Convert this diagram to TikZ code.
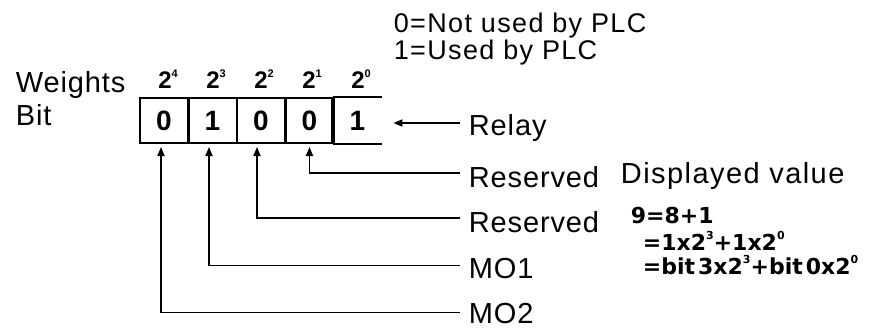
\documentclass[tikz,border=0pt]{standalone}
\usepackage{fontspec}
\setmainfont{Liberation Sans}
\newfontfamily\eqfont{DejaVu Sans}
\newfontfamily\widefont[LetterSpace=5]{Liberation Sans}
\newfontfamily\labfont[LetterSpace=3]{Liberation Sans}
\usetikzlibrary{arrows.meta,calc}
\newcommand{\sups}[1]{\raisebox{0.45em}{\fontsize{11}{11}\selectfont #1}}
\newcommand{\esup}[1]{\raisebox{0.5em}{\fontsize{11}{11}\selectfont #1}}
\begin{document}
\begin{tikzpicture}[x=1pt,y=-1pt,line width=1.8pt,
  lbl/.style={font=\labfont\fontsize{29}{30}\selectfont,inner sep=0pt,anchor=base west},
  wide/.style={lbl,font=\widefont\fontsize{29}{30}\selectfont},
  top/.style={lbl,font=\widefont\fontsize{27}{28}\selectfont},
  cell/.style={minimum width=48pt,minimum height=45pt,inner sep=0pt,font=\fontsize{28}{28}\selectfont\bfseries},
  boxed/.style={cell,draw,line width=2pt},
  wt/.style={font=\fontsize{24}{24}\selectfont\bfseries,inner sep=0pt,anchor=base},
  eq/.style={font=\eqfont\fontsize{22}{22}\selectfont\bfseries,inner sep=0pt,anchor=base west},
  arr/.style={-{Triangle[length=9pt,width=7pt]}}]
\useasboundingbox (0,0) rectangle (875,332);

% header text
\node[top] (n0) at (393,32) {0=Not used by PLC};
\node[top] (n1) at (393,59) {1=Used by PLC};
\node[lbl] (wlab) at (15,92) {Weights};
\node[lbl] (blab) at (15,125) {Bit};

% cells
\node[boxed] (c4) at (164,120.5) {0};
\node[boxed] (c3) at (212.5,120.5) {1};
\node[boxed] (c2) at (261,120.5) {0};
\node[boxed] (c1) at (309.5,120.5) {0};
\node[cell] (c0) at (357.5,120.5) {1};
\draw[line width=2pt] (c0.north west) -- (c0.north east)
      (c0.south west) -- (c0.south east);
\draw[line width=3.5pt] (c0.north west) -- (c0.south west);

% weights
\node[wt] (w4) at (168,88) {2\sups{4}};
\node[wt] (w3) at (216,88) {2\sups{3}};
\node[wt] (w2) at (264,88) {2\sups{2}};
\node[wt] (w1) at (312,88) {2\sups{1}};
\node[wt] (w0) at (361,88) {2\sups{0}};

% right labels
\node[lbl] (rel) at (468,135) {Relay};
\node[lbl] (res1) at (468,187) {Reserved};
\node[lbl] (res2) at (468,232) {Reserved};
\node[lbl] (mo1) at (468,278) {MO1};
\node[lbl] (mo2) at (468,323) {MO2};

% connectors
\draw[arr] ([xshift=-8pt,yshift=4.5pt]rel.west) coordinate (ra)
      -- ($(ra -| c0.east)+(11,0)$);
\draw[arr] ([xshift=-8pt,yshift=4pt]res1.west) -| ([yshift=-3pt]c1.south);
\draw[arr] ([xshift=-8pt,yshift=4pt]res2.west) -| ([xshift=-4pt,yshift=-3pt]c2.south);
\draw[arr] ([xshift=-8pt,yshift=2.5pt]mo1.west) -| ([xshift=-3.5pt,yshift=-3pt]c3.south);
\draw[arr] ([xshift=-8pt,yshift=0.5pt]mo2.west) -| ([xshift=-3pt,yshift=-3pt]c4.south);

% displayed value
\node[wide] (dv) at (620,183) {Displayed value};
\node[eq] (e1) at (630,223) {9=8+1};
\node[eq] (e2) at (642,250) {=1x2\esup{3}+1x2\esup{0}};
\node[eq] (e3) at (642,274) {=bit\hspace{3pt}3x2\esup{3}+bit\hspace{3pt}0x2\esup{0}};
\end{tikzpicture}
\end{document}
